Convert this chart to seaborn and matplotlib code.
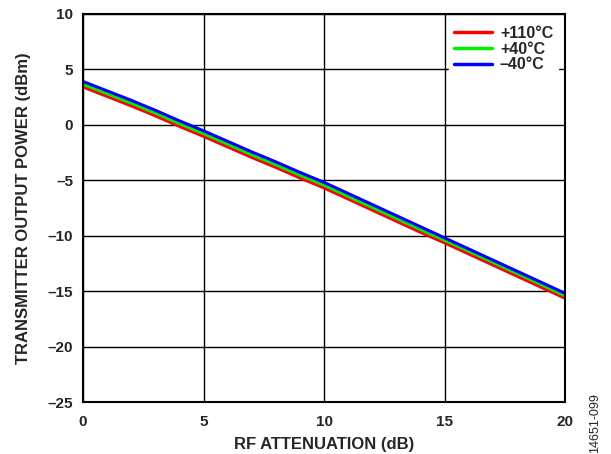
import numpy as np
import pandas as pd
import seaborn as sns
import matplotlib.pyplot as plt
from matplotlib.ticker import FuncFormatter

# data
atten_db = list(range(0, 21))
p_110c = [3.4, 2.55, 1.7, 0.8, -0.15, -1.05, -2.0, -2.95, -3.85, -4.8, -5.7,
          -6.7, -7.7, -8.7, -9.7, -10.65, -11.65, -12.65, -13.65, -14.65, -15.65]
p_40c = [3.65, 2.8, 1.95, 1.05, 0.1, -0.8, -1.75, -2.7, -3.6, -4.55, -5.45,
         -6.45, -7.45, -8.45, -9.45, -10.42, -11.4, -12.4, -13.4, -14.4, -15.42]
p_m40c = [3.9, 3.05, 2.2, 1.3, 0.35, -0.55, -1.5, -2.45, -3.35, -4.3, -5.2,
          -6.2, -7.2, -8.2, -9.2, -10.2, -11.2, -12.2, -13.2, -14.2, -15.2]
labels = ["+110°C", "+40°C", "–40°C"]
colors = ["#ff0000", "#00ee00", "#0000ff"]

df = pd.concat([
    pd.DataFrame({"atten": atten_db, "power": p, "temp": lab})
    for p, lab in zip([p_110c, p_40c, p_m40c], labels)
])

sns.set_style("white")
plt.rcParams["font.family"] = ["Liberation Sans", "DejaVu Sans"]
plt.rcParams["font.weight"] = "bold"

fig = plt.figure(figsize=(6.11, 4.54), dpi=100)
ax = fig.add_axes([0.136, 0.1145, 0.789, 0.855])

sns.lineplot(data=df, x="atten", y="power", hue="temp", hue_order=labels,
             palette=colors, linewidth=2.2, ax=ax)

ax.set_xlim(0, 20)
ax.set_ylim(-25, 10)
ax.set_xticks(range(0, 21, 5))
ax.set_yticks(range(-25, 11, 5))
dash = FuncFormatter(lambda v, pos: f"{v:.0f}".replace("-", "–"))
ax.xaxis.set_major_formatter(dash)
ax.yaxis.set_major_formatter(dash)
ax.grid(True, color="black", linewidth=1.0)
ax.set_axisbelow(True)
for s in ax.spines.values():
    s.set_color("black")
    s.set_linewidth(1.5)
ax.tick_params(labelsize=11, length=0)
ax.tick_params(axis="x", pad=9)
ax.tick_params(axis="y", pad=7)
for t in ax.get_xticklabels() + ax.get_yticklabels():
    t.set_fontweight("bold")

ax.set_xlabel("RF ATTENUATION (dB)", fontsize=12, fontweight="bold", labelpad=6)
ax.set_ylabel("TRANSMITTER OUTPUT POWER (dBm)", fontsize=12, fontweight="bold", labelpad=12)

leg = ax.legend(loc="upper right", frameon=True, fancybox=False, edgecolor="white",
                framealpha=1, fontsize=11.5, handlelength=2.4, labelspacing=0.05,
                borderaxespad=0.45, handletextpad=0.5, borderpad=0.3)
for t in leg.get_texts():
    t.set_fontweight("bold")
for l in leg.get_lines():
    l.set_linewidth(2.5)

fig.text(0.974, 0.003, "14651-099", rotation=90, fontsize=9, ha="center", va="bottom",
         fontweight="normal")

fig.savefig("out.png", dpi=100)
